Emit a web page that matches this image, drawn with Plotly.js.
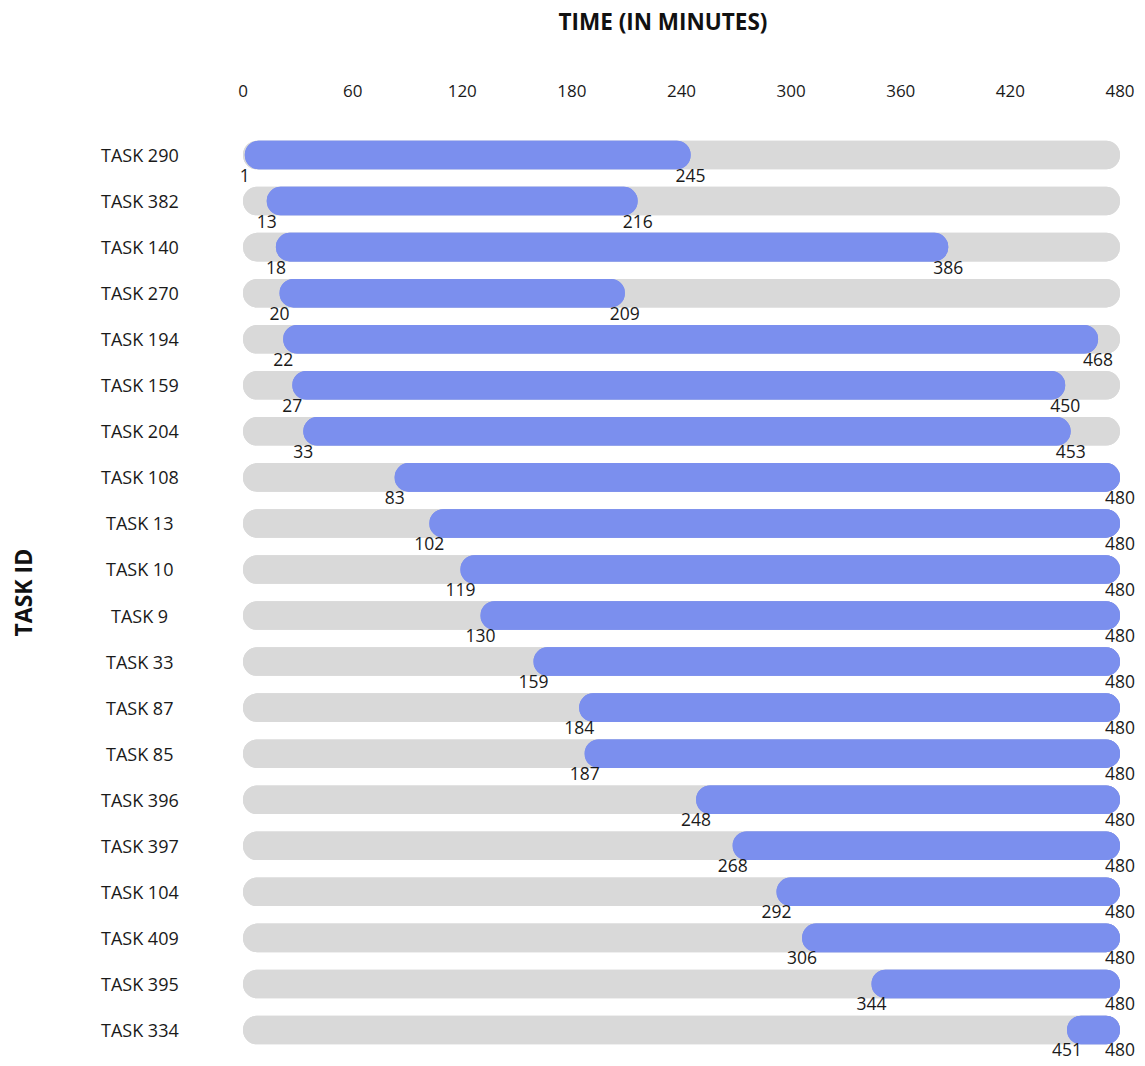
<!DOCTYPE html>
<html><head><meta charset="utf-8">
<script src="https://cdn.plot.ly/plotly-3.0.1.min.js"></script>
<style>html,body{margin:0;padding:0;background:#fff}</style>
</head><body>
<div id="chart" style="width:1145px;height:1066px"></div>
<script>
const tasks = ["TASK 290","TASK 382","TASK 140","TASK 270","TASK 194","TASK 159","TASK 204","TASK 108","TASK 13","TASK 10","TASK 9","TASK 33","TASK 87","TASK 85","TASK 396","TASK 397","TASK 104","TASK 409","TASK 395","TASK 334"];
const starts = [1,13,18,20,22,27,33,83,102,119,130,159,184,187,248,268,292,306,344,451];
const ends = [245,216,386,209,468,450,453,480,480,480,480,480,480,480,480,480,480,480,480,480];
const dayStart = 0;
const dayEnd = 480;
const tickVals = [0,60,120,180,240,300,360,420,480];

const FONT = "Open Sans, Lato, sans-serif";
const idx = tasks.map((_, i) => i);
const barW = 0.62;
const common = {type:'bar', orientation:'h', y: idx, width: barW, hoverinfo:'skip', showlegend:false};

const traces = [
  Object.assign({}, common, {base: tasks.map(()=>dayStart), x: tasks.map(()=>dayEnd-dayStart), marker:{color:'#D9D9D9', cornerradius:'50%'}}),
  Object.assign({}, common, {base: tasks.map(()=>dayEnd), x: tasks.map(()=>dayStart-dayEnd), marker:{color:'#D9D9D9', cornerradius:'50%'}}),
  Object.assign({}, common, {base: starts, x: starts.map((s,i)=>ends[i]-s), marker:{color:'#7B8FEE', cornerradius:'50%'}}),
  Object.assign({}, common, {base: ends, x: ends.map((e,i)=>starts[i]-e), marker:{color:'#7B8FEE', cornerradius:'50%'}}),
  {type:'scatter', mode:'text', x: starts, y: idx.map(i=>i+0.48), text: starts.map(String), textposition:'middle center', textfont:{family:FONT, size:17.5, color:'#1a1a1a'}, cliponaxis:false, hoverinfo:'skip', showlegend:false},
  {type:'scatter', mode:'text', x: ends, y: idx.map(i=>i+0.48), text: ends.map(String), textposition:'middle center', textfont:{family:FONT, size:17.5, color:'#1a1a1a'}, cliponaxis:false, hoverinfo:'skip', showlegend:false}
];

const annotations = tasks.map((t, i) => ({
  xref:'paper', x:(139.5-243)/877, yref:'y', y:i, text:t, showarrow:false, xanchor:'center', yanchor:'middle',
  font:{family:FONT, size:18, color:'#1a1a1a'}
}));
annotations.push({xref:'paper', x:(22-243)/877, yref:'paper', y:0.5, text:'<b>TASK ID</b>', textangle:-90, showarrow:false, xanchor:'center', yanchor:'middle', font:{family:FONT, size:23, color:'#111'}});

const layout = {
  width:1145, height:1066,
  margin:{l:243, r:25, t:132, b:13},
  paper_bgcolor:'#fff', plot_bgcolor:'#fff',
  barmode:'overlay',
  font:{family:FONT, color:'#1a1a1a'},
  title:{text:'<b>TIME (IN MINUTES)</b>', font:{family:FONT, size:22.5, color:'#111'}, xref:'container', x:663/1145, xanchor:'center', yref:'container', y:1-22/1066, yanchor:'middle'},
  xaxis:{range:[dayStart, dayEnd], side:'top', tickvals:tickVals, ticktext:tickVals.map(String), showgrid:false, zeroline:false, showline:false, ticks:'', ticklabelstandoff:31, tickfont:{family:FONT, size:17, color:'#1a1a1a'}, fixedrange:true},
  yaxis:{range:[tasks.length-0.5, -0.5], showticklabels:false, showgrid:false, zeroline:false, showline:false, ticks:'', fixedrange:true},
  annotations: annotations,
  showlegend:false
};

Plotly.newPlot('chart', traces, layout, {displayModeBar:false, staticPlot:true});
</script>
</body></html>
